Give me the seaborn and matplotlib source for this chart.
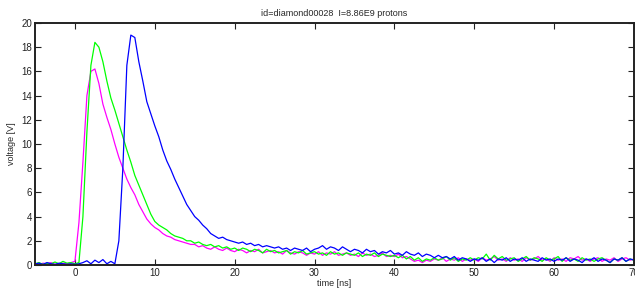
import numpy as np
import matplotlib
matplotlib.use("Agg")
import matplotlib.pyplot as plt
import seaborn as sns

# time axis of the scope traces (0.5 ns sampling)
time_ns = np.linspace(-5, 70, 151)

# voltage traces [V]
magenta_v = [
    0.1, 0.05, 0.15, 0.1, 0.2, 0.05, 0.1, 0.15, 0.1, 0.2,
    0.3, 3.5, 8.5, 14.0, 16.0, 16.2, 15.0, 13.3, 12.2, 11.2,
    10.0, 8.9, 8.0, 7.1, 6.4, 5.8, 5.0, 4.4, 3.8, 3.4,
    3.1, 2.9, 2.6, 2.4, 2.3, 2.1, 2.0, 1.9, 1.8, 1.7,
    1.7, 1.5, 1.6, 1.4, 1.3, 1.5, 1.3, 1.2, 1.4, 1.2,
    1.1, 1.3, 1.2, 1.0, 1.2, 1.1, 1.3, 1.0, 1.1, 1.2,
    1.0, 1.1, 0.9, 1.2, 1.0, 0.9, 1.1, 1.0, 0.8, 1.0,
    0.9, 1.1, 0.8, 1.0, 0.9, 1.1, 0.8, 0.9, 1.0, 0.8,
    0.9, 0.7, 1.0, 0.8, 0.9, 0.7, 0.8, 1.0, 0.7, 0.8,
    0.7, 0.9, 0.6, 0.7, 0.5, 0.3, 0.4, 0.2, 0.4, 0.3,
    0.5, 0.4, 0.6, 0.3, 0.5, 0.4, 0.6, 0.3, 0.5, 0.4,
    0.5, 0.3, 0.6, 0.4, 0.5, 0.7, 0.4, 0.5, 0.3, 0.6,
    0.4, 0.5, 0.3, 0.6, 0.4, 0.5, 0.7, 0.4, 0.5, 0.3,
    0.6, 0.4, 0.5, 0.3, 0.6, 0.5, 0.7, 0.4, 0.5, 0.3,
    0.5, 0.6, 0.3, 0.5, 0.4, 0.6, 0.3, 0.5, 0.6, 0.4,
    0.5,
]
green_v = [
    0.1, 0.2, 0.05, 0.15, 0.1, 0.25, 0.1, 0.3, 0.15, 0.2,
    0.1, 0.2, 4.0, 11.0, 16.5, 18.4, 18.0, 16.8, 15.2, 13.8,
    12.8, 11.7, 10.6, 9.5, 8.5, 7.4, 6.6, 5.8, 5.0, 4.2,
    3.6, 3.3, 3.1, 2.9, 2.6, 2.4, 2.3, 2.2, 2.0, 2.0,
    1.8, 1.9, 1.7, 1.6, 1.7, 1.5, 1.6, 1.4, 1.5, 1.3,
    1.4, 1.2, 1.4, 1.3, 1.1, 1.3, 1.2, 1.0, 1.3, 1.1,
    1.2, 1.0, 1.1, 1.2, 0.9, 1.1, 1.0, 1.2, 0.9, 1.0,
    1.1, 0.9, 1.0, 0.8, 1.1, 0.9, 1.0, 0.8, 1.0, 0.9,
    0.8, 1.0, 0.7, 0.9, 0.8, 1.0, 0.7, 0.9, 0.8, 0.7,
    0.8, 0.6, 0.8, 0.5, 0.7, 0.4, 0.6, 0.3, 0.5, 0.4,
    0.6, 0.4, 0.5, 0.7, 0.4, 0.6, 0.3, 0.5, 0.4, 0.6,
    0.4, 0.6, 0.5, 0.9, 0.4, 0.8, 0.5, 0.7, 0.4, 0.5,
    0.6, 0.3, 0.5, 0.7, 0.4, 0.6, 0.5, 0.3, 0.6, 0.4,
    0.5, 0.7, 0.3, 0.6, 0.4, 0.5, 0.3, 0.6, 0.4, 0.5,
    0.3, 0.5, 0.6, 0.4, 0.2, 0.5, 0.4, 0.6, 0.3, 0.5,
    0.4,
]
blue_v = [
    0.1, 0.15, 0.05, 0.2, 0.1, 0.05, 0.15, 0.1, 0.05, 0.1,
    0.05, 0.1, 0.2, 0.35, 0.1, 0.4, 0.2, 0.45, 0.1, 0.3,
    0.1, 2.0, 8.0, 16.5, 19.0, 18.8, 16.8, 15.2, 13.5, 12.5,
    11.5, 10.6, 9.5, 8.6, 7.9, 7.1, 6.4, 5.7, 5.0, 4.5,
    4.0, 3.7, 3.3, 3.0, 2.6, 2.4, 2.2, 2.3, 2.1, 2.0,
    1.9,
    1.8, 1.9, 1.7, 1.8, 1.6, 1.7, 1.5, 1.6, 1.5, 1.4,
    1.5, 1.3, 1.4, 1.2, 1.4, 1.3, 1.2, 1.4, 1.1, 1.3,
    1.4, 1.6, 1.3, 1.5, 1.4, 1.2, 1.5, 1.3, 1.1, 1.3,
    1.2, 1.0, 1.3, 1.1, 1.2, 0.9, 1.1, 1.0, 1.2, 0.9,
    1.0, 0.8, 1.1, 0.9, 0.8, 1.0, 0.7, 0.9, 0.8, 0.6,
    0.8, 0.6, 0.7, 0.5, 0.7, 0.4, 0.6, 0.5, 0.3, 0.5,
    0.4, 0.6, 0.3, 0.5, 0.2, 0.5, 0.4, 0.6, 0.3, 0.5,
    0.4, 0.6, 0.3, 0.5, 0.4, 0.3, 0.6, 0.4, 0.5, 0.3,
    0.5, 0.4, 0.6, 0.3, 0.5, 0.4, 0.2, 0.5, 0.4, 0.6,
    0.3, 0.5, 0.4, 0.2, 0.5, 0.4, 0.6, 0.3, 0.5, 0.4,
]

x_ticks = [0, 10, 20, 30, 40, 50, 60, 70]
y_ticks = [0, 2, 4, 6, 8, 10, 12, 14, 16, 18, 20]
title = "id=diamond00028  I=8.86E9 protons"

sns.set_style("ticks")
plt.rcParams["font.family"] = ["Liberation Sans", "DejaVu Sans"]

fig = plt.figure(figsize=(6.35, 2.93), dpi=100)
ax = fig.add_axes([35 / 635, 1 - 265 / 293, 599 / 635, 242 / 293])

# draw order: magenta below, blue on top
for vals, col in [(magenta_v, "#ff00ff"), (green_v, "#00ff00"), (blue_v, "#0000ff")]:
    sns.lineplot(x=time_ns, y=vals, color=col, linewidth=0.9, ax=ax)

ax.set_xlim(-5, 70)
ax.set_ylim(0, 20)
ax.set_xticks(x_ticks)
ax.set_yticks(y_ticks)
ax.tick_params(direction="in", length=4, width=0.8, labelsize=7,
               top=True, right=True, pad=2, colors="#222222")
for s in ax.spines.values():
    s.set_linewidth(1.4)
    s.set_color("#222222")

ax.set_xlabel("time [ns]", fontsize=6.5, labelpad=1)
ax.set_ylabel("voltage [V]", fontsize=6.5, labelpad=4)
ax.set_title(title, fontsize=6.5, pad=5)

fig.savefig("out.png", dpi=100)
